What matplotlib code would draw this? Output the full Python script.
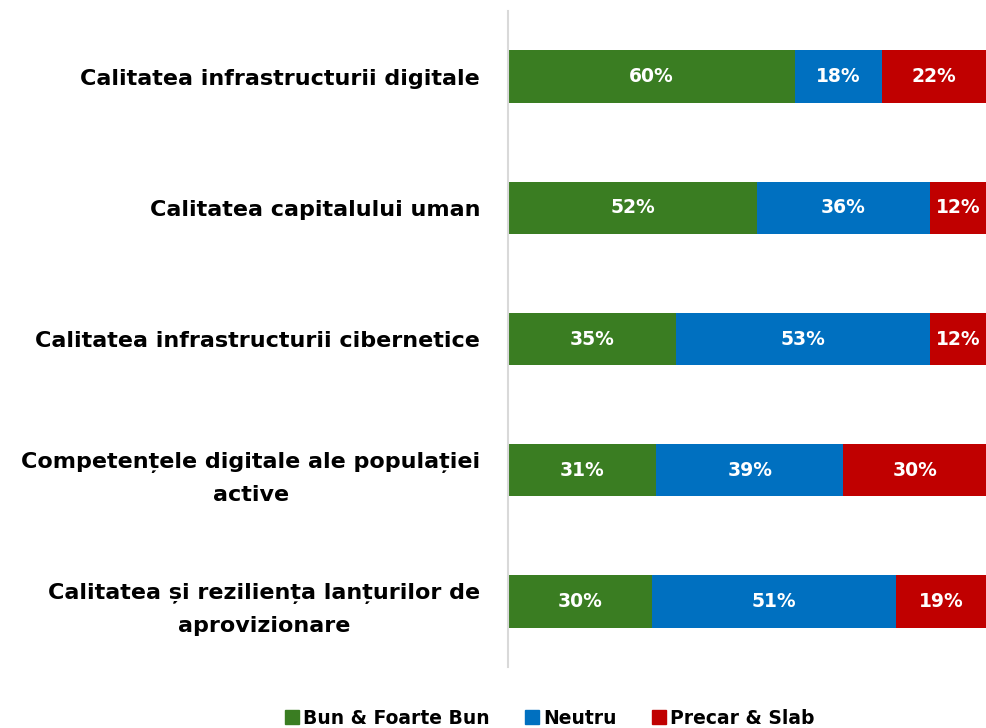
import matplotlib
matplotlib.use("Agg")
import matplotlib.pyplot as plt
from matplotlib.patches import Patch

categories = [
    "Calitatea infrastructurii digitale",
    "Calitatea capitalului uman",
    "Calitatea infrastructurii cibernetice",
    "Competențele digitale ale populației\nactive",
    "Calitatea și reziliența lanțurilor de\naprovizionare",
]
series_names = ["Bun & Foarte Bun", "Neutru", "Precar & Slab"]
bun = [60, 52, 35, 31, 30]
neutru = [18, 36, 53, 39, 51]
precar = [22, 12, 12, 30, 19]
colors = ["#3A7D22", "#0070C0", "#C00000"]

plt.rcParams['font.family'] = ['DejaVu Sans']

fig = plt.figure(figsize=(9.87, 7.28), dpi=100)
ax = fig.add_axes([508/987, (728-667)/728, 1 - 508/987, (667-11)/728])

y = list(range(len(categories)))
left = [0]*len(categories)
for vals, name, c in zip([bun, neutru, precar], series_names, colors):
    ax.barh(y, vals, left=left, height=0.4, color=c, label=name)
    for yi, l, v in zip(y, left, vals):
        ax.text(l + v/2, yi, f"{v}%", ha='center', va='center', color='white',
                fontsize=13.5, fontweight='bold')
    left = [a + b for a, b in zip(left, vals)]

ax.set_xlim(0, 100)
ax.set_ylim(len(categories) - 0.5, -0.5)
ax.set_yticks(y)
ax.set_yticklabels(categories, fontsize=16, fontweight='bold', ha='right')
for t in ax.get_yticklabels():
    t.set_multialignment('center')
    t.set_linespacing(1.75)
ax.tick_params(axis='y', length=0, pad=20)
ax.set_xticks([])
for s in ['top', 'right', 'bottom']:
    ax.spines[s].set_visible(False)
ax.spines['left'].set_color('#D9D9D9')
ax.spines['left'].set_linewidth(1.5)

handles = [Patch(color=c, label=n) for c, n in zip(colors, series_names)]
fig.legend(handles=handles, loc='center', bbox_to_anchor=(550/987, 1 - 718/728), ncol=3,
           frameon=False, handlelength=0.75, handleheight=0.75, handletextpad=0.2,
           columnspacing=1.9, prop={'weight': 'bold', 'size': 13.5})

fig.savefig("out.png", dpi=100)
